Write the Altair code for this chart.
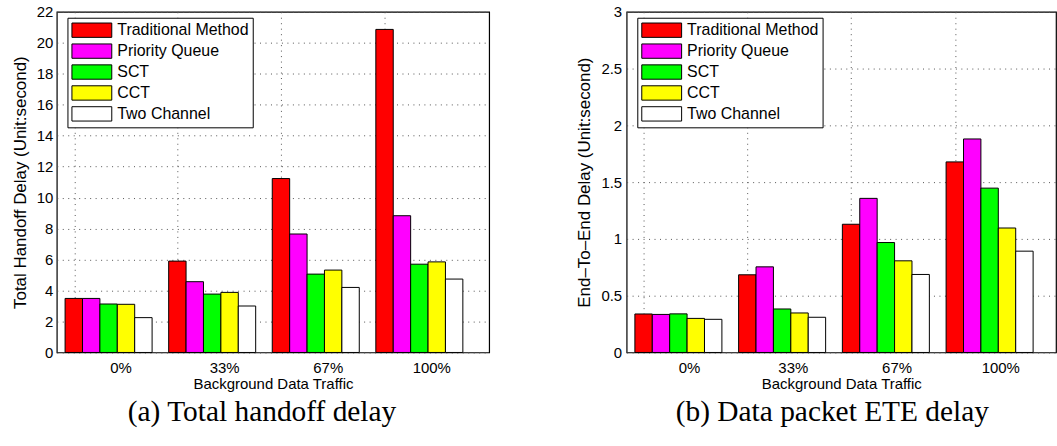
import altair as alt
import pandas as pd

categories = ["0%", "33%", "67%", "100%"]
methods = ["Traditional Method", "Priority Queue", "SCT", "CCT", "Two Channel"]
colors = ["#ff0000", "#ff00ff", "#00ff00", "#ffff00", "#ffffff"]

# (a) Total handoff delay
handoff_traditional = [3.49, 5.90, 11.23, 20.86]
handoff_priority = [3.49, 4.57, 7.65, 8.83]
handoff_sct = [3.13, 3.77, 5.06, 5.70]
handoff_cct = [3.11, 3.88, 5.32, 5.85]
handoff_two = [2.25, 3.00, 4.20, 4.74]

# (b) Data packet ETE delay
ete_traditional = [0.339, 0.684, 1.129, 1.678]
ete_priority = [0.335, 0.754, 1.357, 1.880]
ete_sct = [0.340, 0.383, 0.968, 1.447]
ete_cct = [0.300, 0.348, 0.807, 1.096]
ete_two = [0.292, 0.310, 0.687, 0.892]


def to_frame(series):
    rows = []
    for m, vals in zip(methods, series):
        for c, v in zip(categories, vals):
            rows.append({"traffic": c, "method": m, "value": v})
    return pd.DataFrame(rows)


df_a = to_frame([handoff_traditional, handoff_priority, handoff_sct, handoff_cct, handoff_two])
df_b = to_frame([ete_traditional, ete_priority, ete_sct, ete_cct, ete_two])

FONT = "Liberation Sans"
# wide rectangular legend swatch; the leading move-to widens the symbol column a bit
SYMBOL = "M-1.41,0M-1,-0.9H4V0.9H-1Z"


def panel(df, ymax, yvals, ytitle, caption, w, pin, pout, align, lab_off,
          yext, ytpad, ylpad, cap_dx, label_pad):
    legend = alt.Legend(
        title=None, orient="none", legendX=10.7, legendY=6,
        strokeColor="black", fillColor="white", padding=4, cornerRadius=0,
        symbolType=SYMBOL, symbolSize=256, symbolStrokeColor="black",
        symbolStrokeWidth=1, symbolOpacity=1,
        labelFont=FONT, labelFontSize=16, labelColor="black",
        labelOffset=29, rowPadding=2,
        labelExpr="datum.label + '" + "\u00a0" * label_pad + "'",
    )
    grid_style = dict(grid=True, gridDash=[1, 4.5], gridColor="#555", gridOpacity=1)
    return alt.Chart(df).mark_bar(stroke="black", strokeWidth=1, opacity=1).encode(
        x=alt.X(
            "traffic:N", sort=categories,
            scale=alt.Scale(paddingInner=pin, paddingOuter=pout, align=align),
            axis=alt.Axis(
                title="Background Data Traffic", labelAngle=0, tickBand="center",
                tickOffset=-34.5, labelOffset=lab_off, **grid_style,
                ticks=False, tickSize=0, domain=False,
                labelFont=FONT, labelFontSize=15, labelColor="black",
                labelPadding=8, titleFont=FONT, titleFontSize=15,
                titleFontWeight="normal", titleColor="black", titlePadding=1,
            ),
        ),
        xOffset=alt.XOffset("method:N", sort=methods,
                            scale=alt.Scale(paddingInner=0, paddingOuter=0)),
        y=alt.Y(
            "value:Q", scale=alt.Scale(domain=[0, ymax], nice=False, zero=True),
            axis=alt.Axis(
                title=ytitle, values=yvals, format="~g", **grid_style,
                ticks=False, tickSize=0, domain=False,
                labelFont=FONT, labelFontSize=15, labelColor="black",
                labelPadding=ylpad, minExtent=yext, maxExtent=yext,
                titleFont=FONT, titleFontSize=17,
                titleFontWeight="normal", titleColor="black", titlePadding=ytpad,
            ),
        ),
        color=alt.Color("method:N", sort=methods,
                        scale=alt.Scale(domain=methods, range=colors),
                        legend=legend),
    ).properties(
        width=w, height=342,
        title=alt.TitleParams(caption, orient="bottom", font="Liberation Serif",
                              fontSize=29.5, fontWeight="normal", color="black",
                              offset=6.5, dx=cap_dx),
    )


left = panel(df_a, 22, list(range(0, 23, 2)), "Total Handoff Delay (Unit:second)",
             "(a) Total handoff delay", 434, 0.16, 0.167, 0.24, 46.5,
             23, 4.5, 4, -11, 2)
right = panel(df_b, 3, [0, 0.5, 1, 1.5, 2, 2.5, 3], "End\u2013To\u2013End Delay (Unit:second)",
              "(b) Data packet ETE delay", 431, 0.167, 0.153, 0.26, 45.5,
              28, 5.5, 5, -9, 0)

chart = alt.hconcat(left, right, spacing=84).resolve_legend(
    color="independent"
).resolve_scale(color="independent").properties(
    padding={"left": 10, "top": 3, "right": 0, "bottom": 0},
    background="white",
).configure_view(stroke="black", strokeWidth=1.2)

chart.save("out.html", embed_options={"renderer": "svg", "actions": False})
